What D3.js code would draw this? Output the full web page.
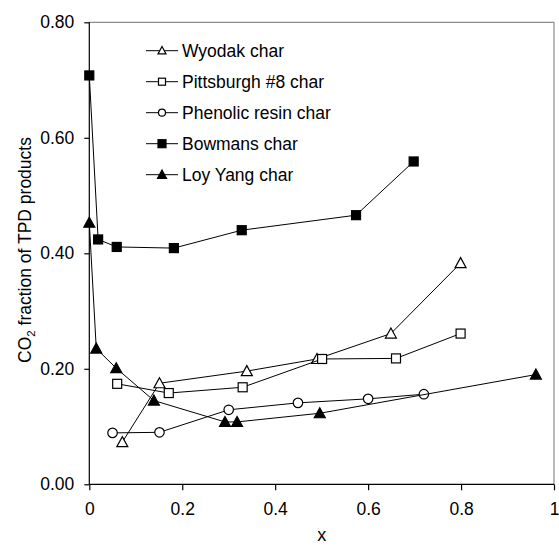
<!DOCTYPE html>
<html lang="en">
<head>
  <meta charset="UTF-8">
  <title>CO2 fraction of TPD products</title>
  <script src="https://d3js.org/d3.v7.min.js"></script>
  <style>
    body { margin: 0; background: #fff; }
    svg { display: block; font-family: "Liberation Sans", Arial, sans-serif; }
  </style>
</head>
<body>
  <div id="chart"></div>
  <script>
    // values
    const seriesNames = ["Wyodak char", "Pittsburgh #8 char", "Phenolic resin char", "Bowmans char", "Loy Yang char"];
    const wyodakX = [0.071, 0.151, 0.339, 0.490, 0.649, 0.799];
    const wyodakY = [0.073, 0.175, 0.196, 0.217, 0.261, 0.383];
    const pittX = [0.060, 0.171, 0.330, 0.501, 0.660, 0.799];
    const pittY = [0.174, 0.158, 0.168, 0.217, 0.218, 0.261];
    const phenolicX = [0.050, 0.151, 0.300, 0.449, 0.600, 0.720];
    const phenolicY = [0.089, 0.090, 0.129, 0.141, 0.148, 0.156];
    const bowmansX = [0.0, 0.019, 0.059, 0.182, 0.328, 0.574, 0.698];
    const bowmansY = [0.708, 0.424, 0.411, 0.409, 0.440, 0.466, 0.559];
    const loyX = [0.0, 0.015, 0.058, 0.139, 0.292, 0.318, 0.496, 0.961];
    const loyY = [0.453, 0.235, 0.201, 0.145, 0.108, 0.108, 0.123, 0.190];
    const xTicks = [0, 0.2, 0.4, 0.6, 0.8, 1];
    const yTicks = [0, 0.2, 0.4, 0.6, 0.8];

    const series = [
      { name: seriesNames[0], xs: wyodakX, ys: wyodakY, shape: "triangle", filled: false },
      { name: seriesNames[1], xs: pittX, ys: pittY, shape: "square", filled: false },
      { name: seriesNames[2], xs: phenolicX, ys: phenolicY, shape: "circle", filled: false },
      { name: seriesNames[3], xs: bowmansX, ys: bowmansY, shape: "square", filled: true },
      { name: seriesNames[4], xs: loyX, ys: loyY, shape: "triangle", filled: true }
    ];

    const width = 559, height = 546;
    const mLeft = 89.3, mRight = 554, mTop = 22.3, mBottom = 484.3;
    const fs = 17.5;

    const x = d3.scaleLinear().domain([0, 1]).range([mLeft, mRight]);
    const y = d3.scaleLinear().domain([0, 0.8]).range([mBottom, mTop]);

    const svg = d3.select("#chart").append("svg")
        .attr("width", width)
        .attr("height", height);

    // grey frame on top and right
    svg.append("path")
        .attr("d", `M${mLeft},${mTop}H${mRight}V${mBottom}`)
        .attr("fill", "none")
        .attr("stroke", "#8c8c8c")
        .attr("stroke-width", 1.2);

    const xAxis = svg.append("g")
        .attr("transform", `translate(0,${mBottom})`)
        .call(d3.axisBottom(x).tickValues(xTicks).tickSize(6).tickPadding(12)
          .tickFormat(d => d === 0 || d === 1 ? d3.format("d")(d) : d3.format(".1f")(d)));
    const yAxis = svg.append("g")
        .attr("transform", `translate(${mLeft},0)`)
        .call(d3.axisLeft(y).tickValues(yTicks).tickSize(5).tickPadding(10)
          .tickFormat(d3.format(".2f")));

    [xAxis, yAxis].forEach(g => {
      g.select(".domain").attr("stroke", "#000").attr("stroke-width", 1.2);
      g.selectAll(".tick line").attr("stroke", "#000").attr("stroke-width", 1.2);
      g.selectAll(".tick text")
          .attr("fill", "#000")
          .style("font-size", fs + "px")
          .style("font-family", "'Liberation Sans', Arial, sans-serif");
    });
    // domain paths without the outer end stubs
    xAxis.select(".domain").attr("d", `M${mLeft},0H${mRight}`);
    yAxis.select(".domain").attr("d", `M0,${mTop}V${mBottom}`);

    // axis titles
    svg.append("text")
        .attr("x", (mLeft + mRight) / 2)
        .attr("y", 541)
        .attr("text-anchor", "middle")
        .style("font-size", "18px")
        .text("x");

    const yTitle = svg.append("text")
        .attr("transform", `translate(31,250) rotate(-90)`)
        .attr("text-anchor", "middle")
        .style("font-size", fs + "px");
    yTitle.append("tspan").text("CO");
    yTitle.append("tspan").attr("dy", 4).style("font-size", "11.5px").text("2");
    yTitle.append("tspan").attr("dy", -4).text(" fraction of TPD products");

    function drawMarker(g, shape, filled, size) {
      const fill = filled ? "#000" : "#fff";
      if (shape === "square") {
        g.append("rect")
            .attr("x", -size / 2).attr("y", -size / 2)
            .attr("width", size).attr("height", size)
            .attr("fill", fill).attr("stroke", "#000").attr("stroke-width", 1.2);
      } else if (shape === "circle") {
        g.append("circle")
            .attr("r", size / 2)
            .attr("fill", fill).attr("stroke", "#000").attr("stroke-width", 1.2);
      } else {
        const h = size * 0.9, w = size / 2 + 0.5;
        g.append("path")
            .attr("d", `M0,${-h / 2 - 1}L${w},${h / 2}L${-w},${h / 2}Z`)
            .attr("fill", fill).attr("stroke", "#000").attr("stroke-width", 1.2)
            .attr("stroke-linejoin", "miter");
      }
    }

    const line = d3.line().x(d => x(d[0])).y(d => y(d[1]));

    series.forEach(s => {
      const pts = s.xs.map((v, i) => [v, s.ys[i]]);
      svg.append("path")
          .datum(pts)
          .attr("d", line)
          .attr("fill", "none")
          .attr("stroke", "#000")
          .attr("stroke-width", 1);
      pts.forEach(p => {
        const g = svg.append("g").attr("transform", `translate(${x(p[0])},${y(p[1])})`);
        const sz = s.shape === "circle" ? 9.5 : (s.shape === "triangle" ? 10 : 9);
        drawMarker(g, s.shape, s.filled, sz);
      });
    });

    // legend
    const legend = svg.append("g").attr("transform", "translate(146,50.7)");
    series.forEach((s, i) => {
      const row = legend.append("g").attr("transform", `translate(0,${i * 31})`);
      row.append("line")
          .attr("x1", 0).attr("x2", 32)
          .attr("stroke", "#000").attr("stroke-width", 1);
      const m = row.append("g").attr("transform", "translate(16,0)");
      drawMarker(m, s.shape, s.filled, s.filled ? 8 : 7);
      row.append("text")
          .attr("x", 36)
          .attr("dy", "0.36em")
          .style("font-size", fs + "px")
          .text(s.name);
    });
  </script>
</body>
</html>
